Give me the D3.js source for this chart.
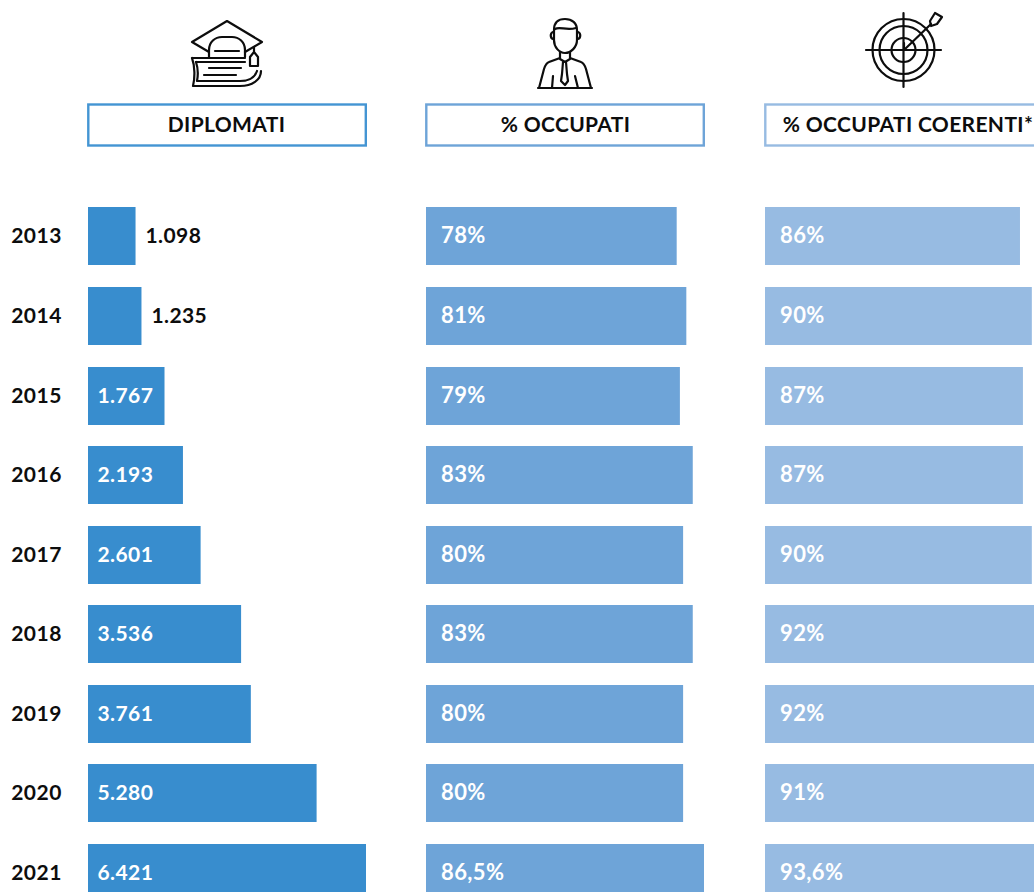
<!DOCTYPE html>
<html>
<head>
<meta charset="utf-8">
<script src="https://cdn.jsdelivr.net/npm/d3@7"></script>
<style>
  html, body { margin: 0; padding: 0; background: #fff; overflow: hidden; }
  text { font-family: Lato, "Open Sans", sans-serif; font-weight: 700; }
  .icon { fill: none; stroke: #0d0d0d; stroke-width: 2.2; stroke-linecap: round; stroke-linejoin: round; }
</style>
</head>
<body>
<div id="chart"></div>
<script>
var years = [2013, 2014, 2015, 2016, 2017, 2018, 2019, 2020, 2021]
var diplomati = [1098, 1235, 1767, 2193, 2601, 3536, 3761, 5280, 6421]
var occupati = [78, 81, 79, 83, 80, 83, 80, 80, 86.5]
var coerenti = [86, 90, 87, 87, 90, 92, 92, 91, 93.6]
var titles = ['DIPLOMATI', '% OCCUPATI', '% OCCUPATI COERENTI*']

var width = 1034
var height = 892

var svg = d3.select('#chart')
  .append('svg')
  .attr('width', width)
  .attr('height', height)

var barHeight = 58
var rowStep = 79.55
var yScale = d3.scaleBand()
  .domain(years)
  .range([207.4, 207.4 + rowStep * 8 + barHeight])
  .paddingInner(1 - barHeight / rowStep)
  .paddingOuter(0)

function rowY(year) {
  return Math.round(yScale(year))
}

var itNumber = d3.formatLocale({ decimal: ',', thousands: '.', grouping: [3], currency: ['', ''] })
var fmtCount = itNumber.format(',d')
function fmtPct(d) {
  return String(d).replace('.', ',') + '%'
}

var columns = [
  { values: diplomati, x: 88, scale: d3.scaleLinear().domain([0, 6421]).range([0, 278]), color: '#388dce', border: '#4495d3', fmt: fmtCount, titleX: 226.5, pad: 9.5, size: 21 },
  { values: occupati, x: 426, scale: d3.scaleLinear().domain([0, 86.5]).range([0, 278]), color: '#6ea4d8', border: '#6ea4d8', fmt: fmtPct, titleX: 565.5, pad: 15, size: 22 },
  { values: coerenti, x: 765, scale: d3.scaleLinear().domain([0, 93.6]).range([0, 277.5]), color: '#97bbe2', border: '#97bbe2', fmt: fmtPct, titleX: 908, pad: 15, size: 22 }
]

// year labels
svg.selectAll('.year')
  .data(years)
  .enter()
  .append('text')
  .attr('class', 'year')
  .attr('x', 36.5)
  .attr('y', function(d) { return rowY(d) + barHeight / 2 + 7 })
  .attr('text-anchor', 'middle')
  .attr('font-size', 21)
  .attr('letter-spacing', 0.5)
  .attr('fill', '#0d0d0d')
  .text(function(d) { return d })

columns.forEach(function(col, c) {
  var g = svg.append('g').attr('transform', 'translate(' + col.x + ',0)')

  // header box
  svg.append('rect')
    .attr('x', col.x + 0.3)
    .attr('y', 104.5)
    .attr('width', 277.5)
    .attr('height', 41)
    .attr('fill', 'none')
    .attr('stroke', col.border)
    .attr('stroke-width', 2.4)

  svg.append('text')
    .attr('x', col.titleX)
    .attr('y', 131.5)
    .attr('text-anchor', 'middle')
    .attr('font-size', 21)
    .attr('letter-spacing', 0.35)
    .attr('fill', '#0d0d0d')
    .text(titles[c])

  g.selectAll('rect')
    .data(col.values)
    .enter()
    .append('rect')
    .attr('x', 0)
    .attr('y', function(d, i) { return rowY(years[i]) })
    .attr('width', function(d) { return col.scale(d) })
    .attr('height', barHeight)
    .attr('fill', col.color)

  g.selectAll('text')
    .data(col.values)
    .enter()
    .append('text')
    .attr('x', function(d) {
      // small bars get the label outside
      if (c == 0 && d < 1500) return col.scale(d) + 10
      return col.pad
    })
    .attr('y', function(d, i) { return rowY(years[i]) + barHeight / 2 + 7 })
    .attr('font-size', col.size)
    .attr('letter-spacing', 0.4)
    .attr('fill', function(d) { return c == 0 && d < 1500 ? '#0d0d0d' : '#fff' })
    .text(function(d) { return col.fmt(d) })
})

// icons
var cap = svg.append('g').attr('class', 'icon')
cap.append('path').attr('d', 'M209 52L192 42L227 21L262 42L245 52')
cap.append('path').attr('d', 'M209 57V50C209 42 215 37 222 37H232C239 37 245 42 245 50V57')
cap.append('path').attr('d', 'M215 51H239')
cap.append('path').attr('d', 'M254 47V52M250 66V57L254 52L258 57V66Z')
cap.append('path').attr('d', 'M192 58H245M196 62H245M192 58C195 66 195 78 193 86H240C252 86 261 80 261 71')
cap.append('path').attr('d', 'M196 62C198 68 198 76 197 81H240C249 81 255 77 257 71')
cap.append('path').attr('d', 'M209 68H241M204 75H236')

var man = svg.append('g').attr('class', 'icon')
man.append('path').attr('d', 'M554 30C554 23 558 19 565 19C572 19 577 23 577 30V40C577 47 571 53 565 53C559 53 554 47 554 40Z')
man.append('path').attr('d', 'M555 29C560 26 566 31 576 28')
man.append('path').attr('d', 'M553 32C550 33 550 38 553 39M578 32C581 33 581 38 578 39')
man.append('path').attr('d', 'M560 52V59L565 62L570 59V52')
man.append('path').attr('d', 'M560 58L549 62C546 63 545 66 544 69L539 88M570 58L581 62C584 63 585 66 586 69L591 88')
man.append('path').attr('d', 'M563 62L562 74L561 81L565 85L568 81L567 74L566 62')
man.append('path').attr('d', 'M538 88H592M553 76L552 88M575 76L578 88')

var target = svg.append('g').attr('class', 'icon')
var targetRadii = [12, 24, 31]
target.selectAll('circle')
  .data(targetRadii)
  .enter()
  .append('circle')
  .attr('cx', 903.5)
  .attr('cy', 50)
  .attr('r', function(d) { return d })
target.append('path').attr('d', 'M866 50H941M903.5 13V87')
target.append('path').attr('d', 'M904 50L931 24M904 50L904 43M904 50L911 50')
target.append('path').attr('d', 'M930 21L935 13L942 17L937 24L931 26Z')
</script>
</body>
</html>
